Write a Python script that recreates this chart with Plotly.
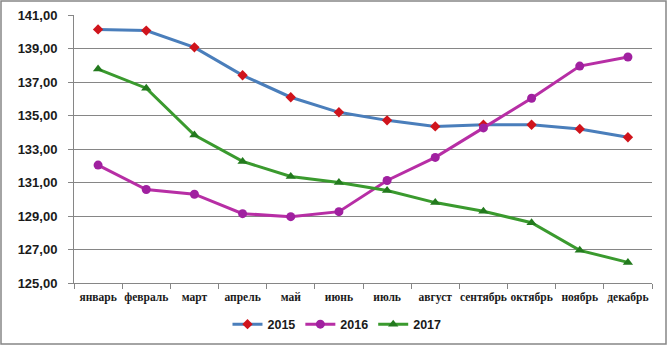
import plotly.graph_objects as go

months = ["январь", "февраль", "март", "апрель", "май", "июнь", "июль",
          "август", "сентябрь", "октябрь", "ноябрь", "декабрь"]
y2015 = [140.14, 140.07, 139.07, 137.40, 136.09, 135.19, 134.71, 134.35, 134.45, 134.45, 134.20, 133.70]
y2016 = [132.04, 130.58, 130.30, 129.14, 128.96, 129.26, 131.12, 132.50, 134.26, 136.03, 137.95, 138.49]
y2017 = [137.77, 136.63, 133.83, 132.26, 131.36, 131.00, 130.52, 129.80, 129.28, 128.60, 126.95, 126.23]
yticks = [125, 127, 129, 131, 133, 135, 137, 139, 141]

fig = go.Figure()
fig.add_trace(go.Scatter(x=months, y=y2015, name="2015", mode="lines+markers",
                         line=dict(color="#4a7ebb", width=3),
                         marker=dict(symbol="diamond", size=8, color="#d0141c")))
fig.add_trace(go.Scatter(x=months, y=y2016, name="2016", mode="lines+markers",
                         line=dict(color="#b72ea5", width=3),
                         marker=dict(symbol="circle", size=9, color="#a020a0")))
fig.add_trace(go.Scatter(x=months, y=y2017, name="2017", mode="lines+markers",
                         line=dict(color="#3a9a2e", width=3),
                         marker=dict(symbol="triangle-up", size=9, color="#237a1e")))

fig.update_layout(
    width=668, height=346,
    margin=dict(l=74, r=16, t=15, b=63, autoexpand=False),
    paper_bgcolor="white", plot_bgcolor="white",
    separators=", ",
    font=dict(family="Liberation Sans", color="#1a1a1a"),
    showlegend=True,
    legend=dict(orientation="h", x=0.455, xanchor="center", y=-0.155, yanchor="middle",
                font=dict(size=12.5, family="Liberation Sans", weight="bold"),
                itemwidth=30, tracegroupgap=0),
    xaxis=dict(type="category", tickson="boundaries", ticks="outside", ticklen=5,
               tickcolor="#868686", showline=True, linecolor="#868686", linewidth=1,
               showgrid=False, range=[-0.5, 11.5], tickangle=0, ticklabelstandoff=3,
               tickfont=dict(size=11.5, family="Liberation Sans Narrow", weight="bold")),
    yaxis=dict(range=[125, 141], tickvals=yticks, tickformat=".2f",
               showgrid=True, gridcolor="#868686", gridwidth=1,
               showline=True, linecolor="#868686", ticks="outside", ticklen=5,
               tickcolor="#868686", zeroline=False, ticklabelstandoff=8,
               tickfont=dict(size=13, family="Liberation Sans", weight="bold")),
    shapes=[dict(type="rect", xref="paper", yref="paper",
                 x0=-73/578, x1=(666-74)/578, y0=-(344-283)/268, y1=(283-1)/268,
                 line=dict(color="#868686", width=1.5))],
)

fig.write_html("out.html")
